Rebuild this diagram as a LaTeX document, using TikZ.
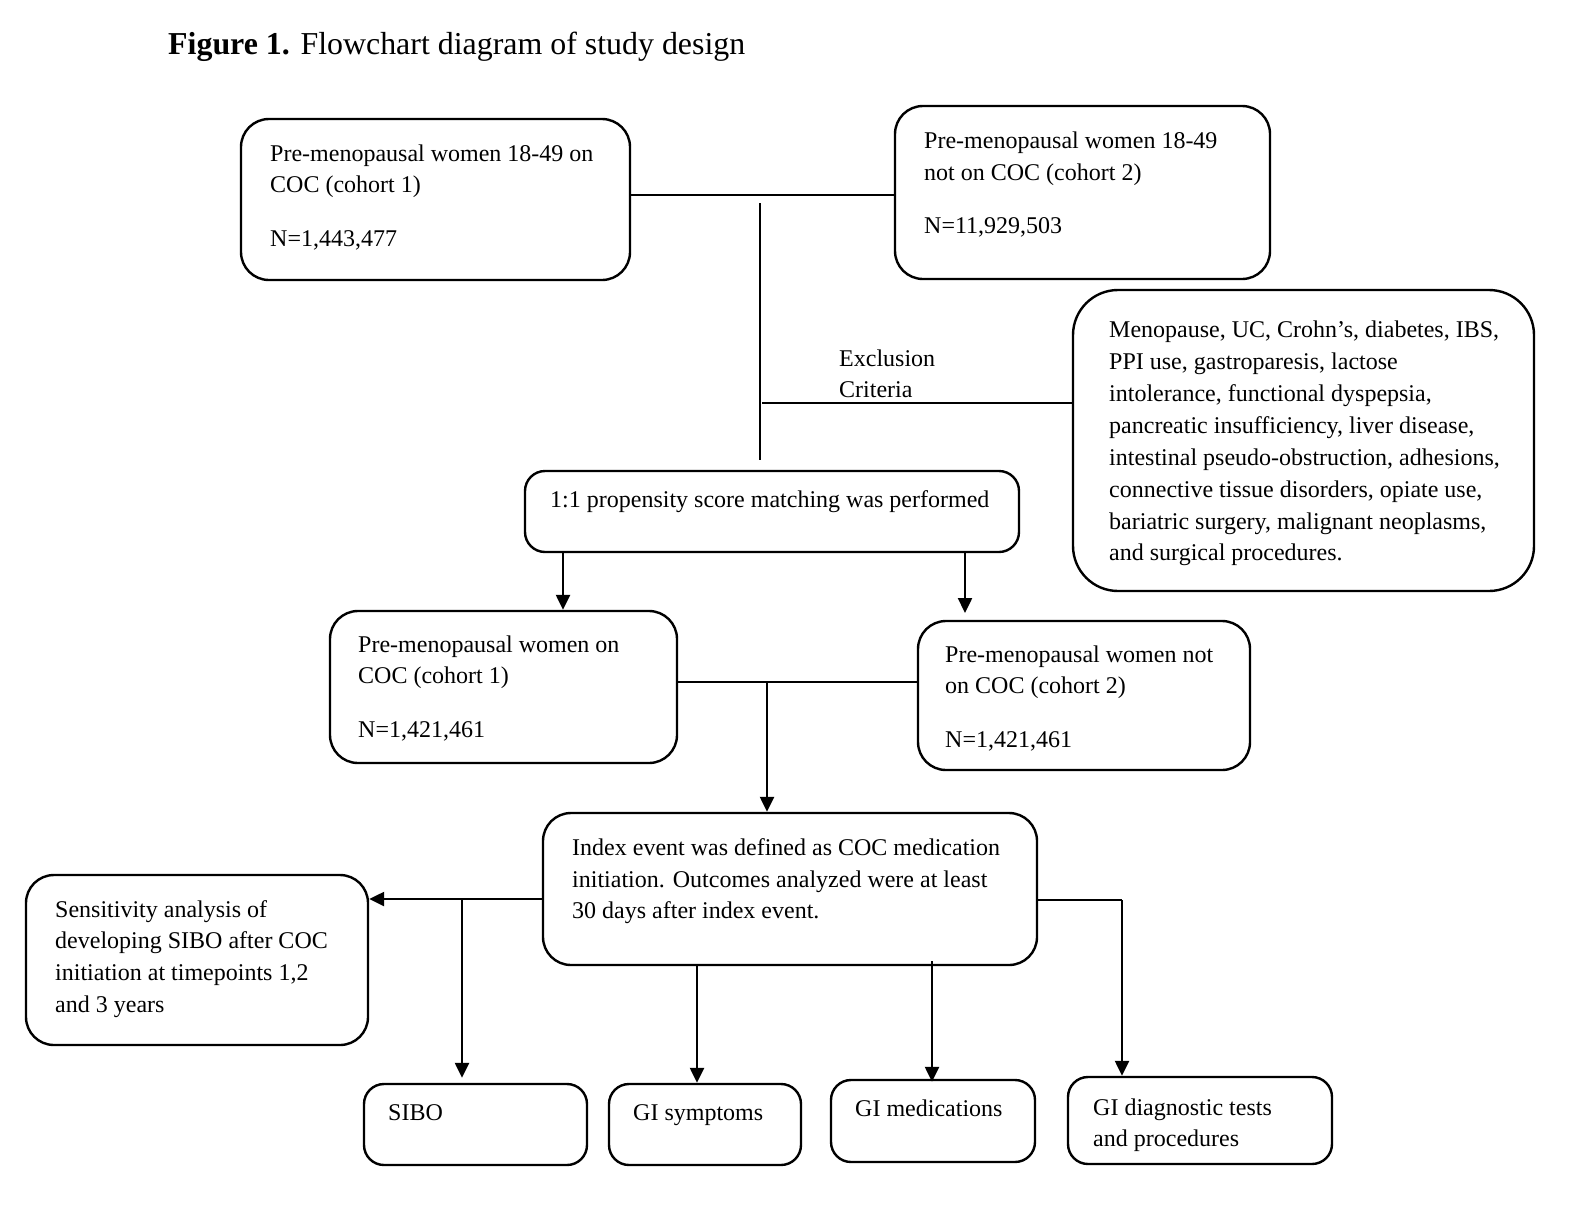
\documentclass[tikz,border=0pt]{standalone}
\usepackage{fontspec}
\setmainfont{Liberation Serif}
\usetikzlibrary{arrows.meta,fit}
\begin{document}
\begin{tikzpicture}[x=1pt,y=-1pt,
  box/.style={draw, line width=2.4pt, rounded corners=28pt, inner sep=0pt},
  sbox/.style={box, rounded corners=20pt},
  txt/.style={anchor=base west, inner sep=0pt, font=\fontsize{24}{32}\selectfont},
  ln/.style={line width=2.4pt},
  arr/.style={line width=2.4pt, -{Triangle[length=15pt,width=14pt]}}]
\useasboundingbox (0,0) rectangle (1570,1223);

% title
\node[anchor=base west, inner sep=0pt, font=\fontsize{31.9}{38}\selectfont] (title) at (168,55) {\textbf{Figure 1.} Flowchart diagram of study design};

% boxes
\node[box, fit={(241,119) (630,280)}] (A) {};
\node[box, fit={(895,106) (1270,279)}] (B) {};
\node[box, rounded corners=45pt, fit={(1073,290) (1534,591)}] (E) {};
\node[box, rounded corners=20pt, fit={(525,471) (1019,552)}] (M) {};
\node[box, fit={(330,611) (677,763)}] (C) {};
\node[box, fit={(918,621) (1250,770)}] (D) {};
\node[box, fit={(543,813) (1037,965)}] (I) {};
\node[box, fit={(26,875) (368,1045)}] (S) {};
\node[sbox, fit={(364,1084) (587,1165)}] (sibo) {};
\node[sbox, fit={(609,1084) (801,1165)}] (gis) {};
\node[sbox, fit={(831,1080) (1035,1162)}] (gim) {};
\node[sbox, fit={(1068,1077) (1332,1164)}] (gid) {};

% texts
\node[txt] (A1) at (270,161) {Pre-menopausal women 18-49 on};
\node[txt] (A2) at (270,192) {COC (cohort 1)};
\node[txt] (A3) at (270,246) {N=1,443,477};
\node[txt] (B1) at (924,148) {Pre-menopausal women 18-49};
\node[txt] (B2) at (924,180) {not on COC (cohort 2)};
\node[txt] (B3) at (924,233) {N=11,929,503};
\node[txt] (X1) at (839,366) {Exclusion};
\node[txt] (X2) at (839,397) {Criteria};
\node[txt] (E1) at (1109,337) {Menopause, UC, Crohn’s, diabetes, IBS,};
\node[txt] (E2) at (1109,369) {PPI use, gastroparesis, lactose};
\node[txt] (E3) at (1109,401) {intolerance, functional dyspepsia,};
\node[txt] (E4) at (1109,433) {pancreatic insufficiency, liver disease,};
\node[txt] (E5) at (1109,465) {intestinal pseudo-obstruction, adhesions,};
\node[txt] (E6) at (1109,497) {connective tissue disorders, opiate use,};
\node[txt] (E7) at (1109,529) {bariatric surgery, malignant neoplasms,};
\node[txt] (E8) at (1109,560) {and surgical procedures.};
\node[txt] (M1) at (550,507) {1:1 propensity score matching was performed};
\node[txt] (C1) at (358,652) {Pre-menopausal women on};
\node[txt] (C2) at (358,683) {COC (cohort 1)};
\node[txt] (C3) at (358,737) {N=1,421,461};
\node[txt] (D1) at (945,662) {Pre-menopausal women not};
\node[txt] (D2) at (945,693) {on COC (cohort 2)};
\node[txt] (D3) at (945,747) {N=1,421,461};
\node[txt] (I1) at (572,855) {Index event was defined as COC medication};
\node[txt] (I2) at (572,887) {initiation. Outcomes analyzed were at least};
\node[txt] (I3) at (572,918) {30 days after index event.};
\node[txt] (S1) at (55,917) {Sensitivity analysis of};
\node[txt] (S2) at (55,948) {developing SIBO after COC};
\node[txt] (S3) at (55,980) {initiation at timepoints 1,2};
\node[txt] (S4) at (55,1012) {and 3 years};
\node[txt] (T1) at (388,1120) {SIBO};
\node[txt] (T2) at (633,1120) {GI symptoms};
\node[txt] (T3) at (855,1116) {GI medications};
\node[txt] (T4) at (1093,1115) {GI diagnostic tests};
\node[txt] (T5) at (1093,1146) {and procedures};

% helper coordinates
\coordinate (ab) at (760,195);
\coordinate (v1) at (760,203);
\coordinate (v2) at (760,460);
\coordinate (ex) at (762,403);
\coordinate (ml) at (563,0);
\coordinate (mr) at (965,0);
\coordinate (mrend) at (965,613);
\coordinate (cd) at (767,682);
\coordinate (il) at (462,899);
\coordinate (gs) at (697,0);
\coordinate (gm) at (932,0);
\coordinate (ir) at (1122,900);

% connectors
\draw[ln] (A.east |- ab) -- (B.west |- ab);
\draw[ln] (v1) -- (v2);
\draw[ln] (ex) -- (ex -| E.west);
\draw[arr] (M.south -| ml) -- (C.north -| ml);
\draw[arr] (M.south -| mr) -- (mrend);
\draw[ln] (C.east |- cd) -- (D.west |- cd);
\draw[arr] (cd) -- (I.north -| cd);
\draw[arr] (I.west |- il) -- (S.east |- il);
\draw[arr] (il) -- ([yshift=5pt]sibo.north -| il);
\draw[arr] (I.south -| gs) -- (gis.north -| gs);
\draw[arr] ([yshift=5pt]I.south -| gm) -- ([yshift=-3pt]gim.north -| gm);
\draw[ln] (I.east |- ir) -- (ir);
\draw[arr] (ir) -- (gid.north -| ir);
\end{tikzpicture}
\end{document}
